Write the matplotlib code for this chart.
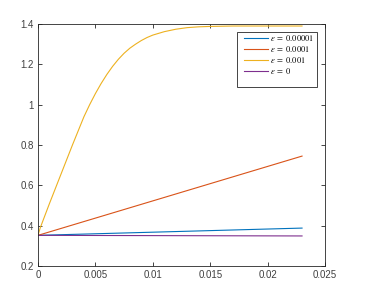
import matplotlib
matplotlib.use("Agg")
import matplotlib.pyplot as plt
from matplotlib.patches import Rectangle

plt.rcParams['font.family'] = ['Liberation Sans', 'DejaVu Sans']
plt.rcParams['mathtext.fontset'] = 'stix'

# data
x_lin = [0.0, 0.023]
y_e5 = [0.352, 0.388]      # eps = 0.00001
y_e4 = [0.352, 0.745]      # eps = 0.0001
y_e0 = [0.352, 0.349]      # eps = 0

x_e3 = [0.0, 0.0002, 0.001, 0.002, 0.003, 0.0035, 0.004, 0.0045, 0.005, 0.0055,
        0.006, 0.0065, 0.007, 0.0075, 0.008, 0.0085, 0.009, 0.0095, 0.010,
        0.011, 0.012, 0.013, 0.014, 0.015, 0.017, 0.020, 0.023]
y_e3 = [0.352, 0.39, 0.51, 0.655, 0.80, 0.87, 0.94, 1.0, 1.055, 1.105,
        1.15, 1.19, 1.225, 1.255, 1.28, 1.30, 1.318, 1.333, 1.345,
        1.362, 1.374, 1.382, 1.386, 1.388, 1.39, 1.39, 1.39]

labels = [r'$\epsilon\;=\;0.00001$', r'$\epsilon\;=\;0.0001$',
          r'$\epsilon\;=\;0.001$', r'$\epsilon\;=\;0$']
colors = ['#0072BD', '#D95319', '#EDB120', '#7E2F8E']

xticks = [0, 0.005, 0.01, 0.015, 0.02, 0.025]
xticklabels = ['0', '0.005', '0.01', '0.015', '0.02', '0.025']
yticks = [0.2, 0.4, 0.6, 0.8, 1.0, 1.2, 1.4]
yticklabels = ['0.2', '0.4', '0.6', '0.8', '1', '1.2', '1.4']

W, H = 368, 301
fig = plt.figure(figsize=(W/100, H/100), dpi=100)
ax = fig.add_axes([38/W, 1-266/H, (325-38)/W, (266-24)/H])

lw = 0.8
ax.plot(x_lin, y_e5, color=colors[0], lw=lw, label=labels[0])
ax.plot(x_lin, y_e4, color=colors[1], lw=lw, label=labels[1])
ax.plot(x_e3, y_e3, color=colors[2], lw=lw, label=labels[2])
ax.plot(x_lin, y_e0, color=colors[3], lw=lw, label=labels[3])

ax.set_xlim(0, 0.025)
ax.set_ylim(0.2, 1.4)
ax.set_xticks(xticks)
ax.set_xticklabels(xticklabels)
ax.set_yticks(yticks)
ax.set_yticklabels(yticklabels)
ax.tick_params(direction='in', top=True, right=True, length=3, width=0.6,
               labelsize=7, colors='#262626', labelcolor='#404040', pad=3)
for s in ax.spines.values():
    s.set_linewidth(0.6)
    s.set_color('#262626')

leg = fig.legend(*ax.get_legend_handles_labels(), loc='upper left',
                 bbox_to_anchor=(244/W, 1-33/H), frameon=False,
                 handlelength=2.8, handletextpad=0.25, borderpad=0.0,
                 borderaxespad=0.0, labelspacing=0.1,
                 prop={'family': ['Liberation Serif', 'DejaVu Serif'], 'size': 6.1})
fig.add_artist(Rectangle((237/W, 1-87/H), 80/W, 55/H, transform=fig.transFigure,
                         fill=True, facecolor='white', edgecolor='#262626',
                         linewidth=0.6, zorder=2))
leg.set_zorder(3)

fig.savefig('out.png', dpi=100)
